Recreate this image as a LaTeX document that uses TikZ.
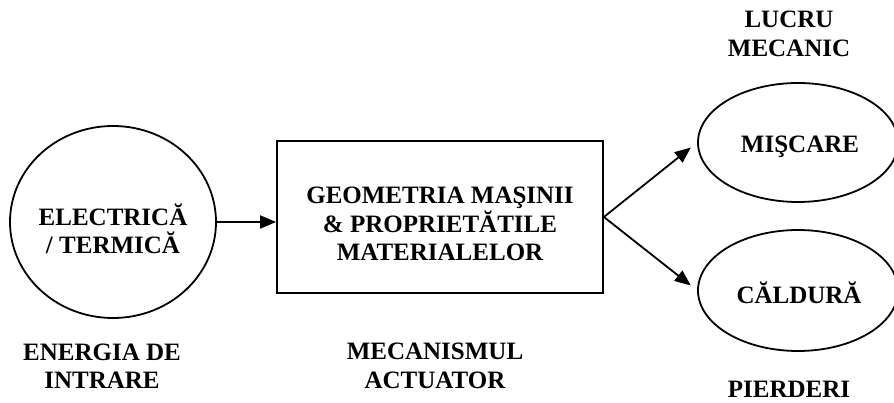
\documentclass[tikz,border=0pt]{standalone}
\usepackage{fontspec}
\setmainfont{Liberation Serif}
\usetikzlibrary{shapes.geometric,arrows.meta}
\begin{document}
\begin{tikzpicture}[x=1pt,y=-1pt,
  lbl/.style={font=\fontsize{25}{28.5}\selectfont\bfseries, align=center, inner sep=0pt},
  shapeline/.style={draw, line width=1.8pt, inner sep=0pt},
  arr/.style={line width=1.8pt, -{Triangle[length=16pt,width=13pt]}}]
\useasboundingbox (0,0) rectangle (894,403);
% shapes
\node[ellipse, shapeline, minimum width=206pt, minimum height=192pt] (elec) at (113,222) {};
\node[rectangle, shapeline, minimum width=326pt, minimum height=152pt] (box) at (440,217) {};
\node[ellipse, shapeline, minimum width=200pt, minimum height=119pt] (misc) at (798,142.5) {};
\node[ellipse, shapeline, minimum width=200pt, minimum height=121pt] (cald) at (798,290.5) {};
% texts in shapes
\node[lbl] (electxt) at (113,229) {ELECTRICĂ\\/ TERMICĂ};
\node[lbl] (boxtxt) at (440,224) {GEOMETRIA MAŞINII\\\& PROPRIETĂTILE\\MATERIALELOR};
\node[lbl] (misctxt) at (800,147) {MIŞCARE};
\node[lbl] (caldtxt) at (799,293) {CĂLDURĂ};
% outer labels (clipped as in the original)
\begin{scope}
\clip (700,0) rectangle (894,57);
\node[lbl] (lucru) at (789,34) {LUCRU\\MECANIC};
\end{scope}
\begin{scope}
\clip (0,330) rectangle (600,388);
\node[lbl] (energ) at (102,366) {ENERGIA DE\\INTRARE};
\node[lbl] (mecan) at (435,366) {MECANISMUL\\ACTUATOR};
\end{scope}
\node[lbl] (pierd) at (789,389) {PIERDERI};
% connectors
\draw[arr] (elec.east) -- (elec.east -| box.west);
\draw[arr, shorten >=8pt] (box.east) -- (misc.west);
\draw[arr, shorten >=8pt] (box.east) -- (cald.west);
\end{tikzpicture}
\end{document}
